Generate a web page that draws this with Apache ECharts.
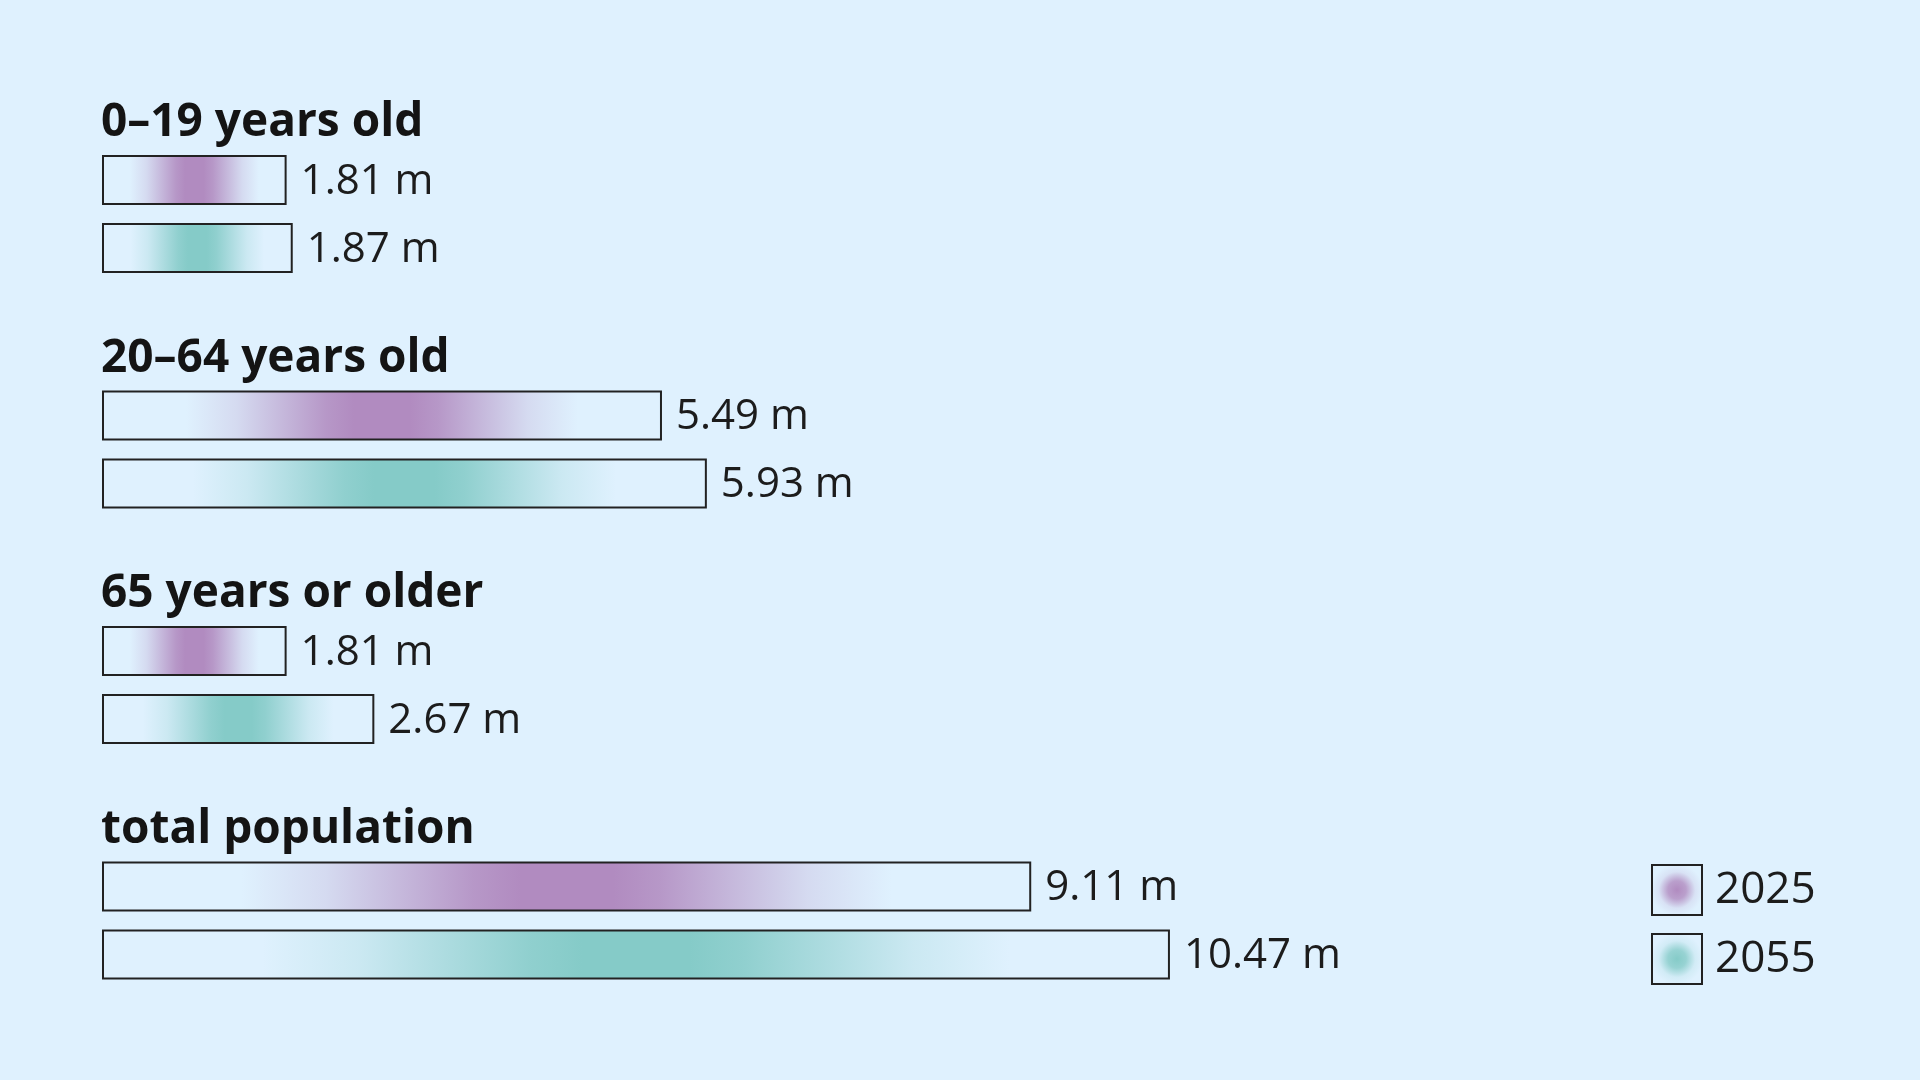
<!DOCTYPE html>
<html><head><meta charset="utf-8">
<script src="https://cdn.jsdelivr.net/npm/echarts@6/dist/echarts.min.js"></script>
<style>html,body{margin:0;padding:0;background:#DFF1FE;}#c{width:1920px;height:1080px;}</style>
</head><body><div id="c"></div>
<script>
const groups = ['0–19 years old', '20–64 years old', '65 years or older', 'total population'];
const years = ['2025', '2055'];
const values2025 = [1.81, 5.49, 1.81, 9.11];
const values2055 = [1.87, 5.93, 2.67, 10.47];

const FONT = 'Open Sans';
const colors = { '2025': [177, 139, 192], '2055': [133, 203, 200] };
function grad(rgb) {
  const c = a => `rgba(${rgb[0]},${rgb[1]},${rgb[2]},${a})`;
  return { type: 'linear', x: 0, y: 0, x2: 1, y2: 0, colorStops: [
    { offset: 0, color: c(0) }, { offset: 0.15, color: c(0) }, { offset: 0.24, color: c(0.22) },
    { offset: 0.32, color: c(0.55) }, { offset: 0.40, color: c(0.88) }, { offset: 0.45, color: c(1) },
    { offset: 0.55, color: c(1) }, { offset: 0.60, color: c(0.88) }, { offset: 0.68, color: c(0.55) },
    { offset: 0.76, color: c(0.22) }, { offset: 0.85, color: c(0) }, { offset: 1, color: c(0) }] };
}
function radial(rgb) {
  const c = a => `rgba(${rgb[0]},${rgb[1]},${rgb[2]},${a})`;
  return { type: 'radial', x: 0.5, y: 0.5, r: 0.5, colorStops: [
    { offset: 0, color: c(1) }, { offset: 0.35, color: c(0.8) }, { offset: 0.7, color: c(0.15) }, { offset: 1, color: c(0) }] };
}

const gridTops = [146, 381.5, 617, 852.5];
const grids = [], xAxes = [], yAxes = [], series = [], titles = [];
groups.forEach((g, i) => {
  grids.push({ left: 102, width: 1734, top: gridTops[i], height: 136 });
  xAxes.push({ gridIndex: i, type: 'value', min: 0, max: 17, show: false });
  yAxes.push({ gridIndex: i, type: 'category', data: years, inverse: true, show: false });
  titles.push({ text: g, left: 96, top: gridTops[i] - 51,
    textStyle: { fontFamily: FONT, fontWeight: 'bold', fontSize: 46, color: '#141414' } });
  [values2025[i], values2055[i]].forEach((v, k) => {
    const y = years[k];
    const data = k === 0 ? [v, '-'] : ['-', v];
    series.push({ name: y, type: 'bar', xAxisIndex: i, yAxisIndex: i, stack: 's' + i,
      barWidth: 50, data: data,
      itemStyle: { color: grad(colors[y]), borderColor: '#222222', borderWidth: 2 },
      label: { show: true, position: 'right', distance: 14, offset: [0, 2], formatter: p => p.value + ' m',
        fontFamily: FONT, fontSize: 42, color: '#1c1c1c' } });
  });
});

const chart = echarts.init(document.getElementById('c'));
chart.setOption({
  backgroundColor: '#DFF1FE',
  animation: false,
  title: titles,
  grid: grids, xAxis: xAxes, yAxis: yAxes, series: series,
  legend: { orient: 'vertical', left: 1646, top: 859, itemWidth: 50, itemHeight: 50, itemGap: 17,
    icon: 'rect', selectedMode: false,
    textStyle: { fontFamily: FONT, fontSize: 44, color: '#1c1c1c', padding: [0, 0, 0, 8] },
    data: years.map(y => ({ name: y, itemStyle: { color: radial(colors[y]), borderColor: '#222222', borderWidth: 2 } })) }
});
</script></body></html>
